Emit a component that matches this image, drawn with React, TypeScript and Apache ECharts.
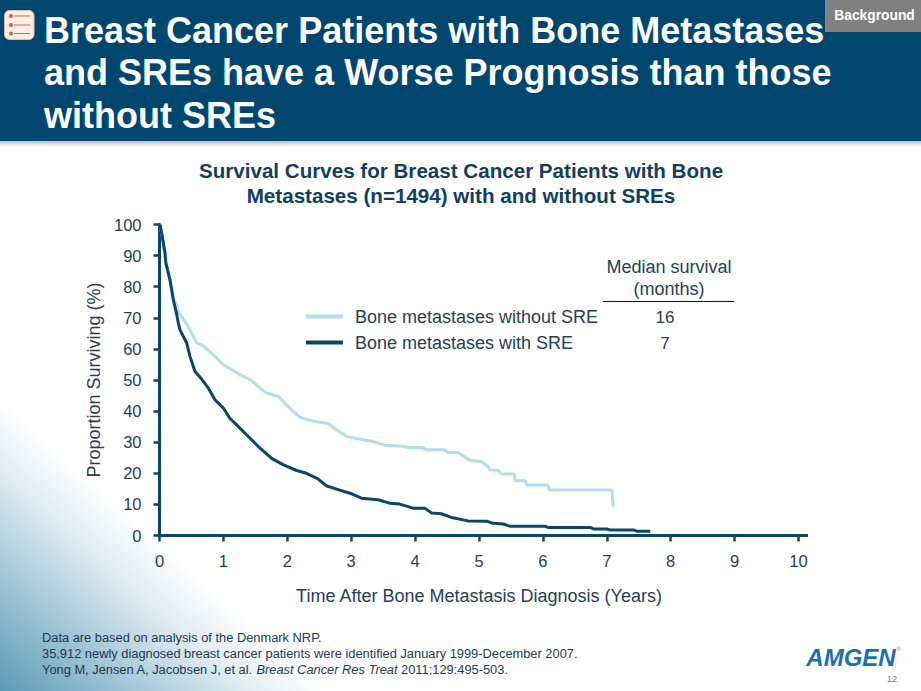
import React, { useEffect, useRef } from "react";
import * as echarts from "echarts";

const withoutSRE: [number, number][] = [
  [0.008, 99.9], [0.044, 96.1], [0.086, 90.8], [0.1, 87.6], [0.164, 82.2], [0.216, 76.5], [0.269, 74.2], [0.294, 72], [0.45, 67.2],
  [0.582, 61.9], [0.686, 61], [0.842, 58.1], [1, 54.9], [1.13, 53.3], [1.26, 51.7], [1.443, 49.8], [1.573, 47.4], [1.678, 45.8], [1.86, 44.7],
  [2.04, 40.9], [2.2, 38], [2.4, 36.8], [2.64, 36], [2.77, 34], [2.93, 31.8], [3.135, 31], [3.34, 30.2], [3.55, 28.9],
  [3.76, 28.8], [3.92, 28.3], [4.12, 28.3], [4.17, 27.6], [4.46, 27.6], [4.51, 26.7], [4.67, 26.7], [4.8, 24.9],
  [4.88, 24.1], [5.03, 23.8], [5.14, 22.2], [5.17, 21.1], [5.3, 20.9], [5.35, 19.8], [5.55, 19.8], [5.57, 17.6],
  [5.73, 17.6], [5.74, 16.2], [6.08, 16.2], [6.1, 14.6], [7.08, 14.6], [7.1, 9.1],
];
const withSRE: [number, number][] = [
  [0.008, 99.9], [0.044, 96.1], [0.086, 90.8], [0.1, 87.6], [0.164, 82.2], [0.216, 75.8], [0.27, 71], [0.295, 68.3], [0.32, 66.1],
  [0.426, 61.9], [0.477, 57.6], [0.556, 52.7], [0.66, 50.3], [0.764, 47.4], [0.869, 43.6], [0.999, 41], [1.1, 37.7],
  [1.21, 35.5], [1.365, 32.3], [1.547, 28.6], [1.755, 24.8], [1.94, 22.7], [2.146, 20.9], [2.3, 20], [2.48, 18.2], [2.61, 16], [2.77, 14.9], [2.98, 13.6],
  [3.16, 12], [3.42, 11.5], [3.6, 10.4], [3.76, 10.1], [3.97, 8.8], [4.15, 8.8], [4.26, 7.2], [4.41, 7],
  [4.57, 5.8], [4.83, 4.7], [5.12, 4.6], [5.22, 3.9], [5.38, 3.7], [5.48, 3], [6.03, 3], [6.08, 2.6],
  [6.74, 2.6], [6.79, 2.1], [7, 2.1], [7.05, 1.8], [7.42, 1.8], [7.47, 1.4], [7.68, 1.4],
];
const seriesNames = ["Bone metastases without SRE", "Bone metastases with SRE"];
const medianMonths = ["16", "7"];
const titleLines = "Breast Cancer Patients with Bone Metastases\nand SREs have a Worse Prognosis than those\nwithout SREs";
const subtitleLines = "Survival Curves for Breast Cancer Patients with Bone\nMetastases (n=1494) with and without SREs";

const FONT = "'Liberation Sans', Arial, sans-serif";
const NAVY = "#0b4567";
const LIGHT = "#b4dcec";
const INK = "#233f55";
const HEADER = "#00466e";
const ICON = "#c4694a";

export default function App() {
  const ref = useRef<HTMLDivElement>(null);
  useEffect(() => {
    document.body.style.margin = "0";
    document.body.style.background = "#fff";
    const chart = echarts.init(ref.current!, null, { renderer: "svg" });
    chart.setOption({
      animation: false,
      backgroundColor: "#ffffff",
      textStyle: { fontFamily: FONT },
      title: [
        {
          text: titleLines, left: 39, top: 4, z: 20,
          textStyle: { color: "#fff", fontSize: 36, fontWeight: "bold", lineHeight: 42.5, fontFamily: FONT },
        },
        {
          text: subtitleLines, left: 456, top: 153, textAlign: "center",
          textStyle: { color: "#123f5f", fontSize: 20.6, fontWeight: "bold", lineHeight: 25, fontFamily: FONT },
        },
      ],
      grid: { left: 159.5, top: 224.5, width: 639, height: 311, containLabel: false },
      xAxis: {
        type: "value", min: 0, max: 10, interval: 1,
        name: "Time After Bone Metastasis Diagnosis (Years)", nameLocation: "middle", nameGap: 51,
        nameTextStyle: { color: INK, fontSize: 18, fontFamily: FONT },
        axisLine: { show: true, onZero: false, lineStyle: { color: NAVY, width: 3 } },
        axisTick: { show: true, length: 6, lineStyle: { color: NAVY, width: 2.5 } },
        axisLabel: { color: INK, fontSize: 16.5, margin: 17, fontFamily: FONT },
        splitLine: { show: false },
      },
      yAxis: {
        type: "value", min: 0, max: 100, interval: 10,
        name: "Proportion Surviving (%)", nameLocation: "middle", nameGap: 57,
        nameTextStyle: { color: INK, fontSize: 18, fontFamily: FONT },
        axisLine: { show: true, onZero: false, lineStyle: { color: NAVY, width: 3 } },
        axisTick: { show: true, length: 6, lineStyle: { color: NAVY, width: 2.5 } },
        axisLabel: { color: INK, fontSize: 16.5, margin: 18, fontFamily: FONT },
        splitLine: { show: false },
      },
      legend: {
        data: seriesNames.map((name) => ({ name, icon: "rect" })),
        orient: "vertical", left: 306, top: 307.5, itemWidth: 37, itemHeight: 4, itemGap: 8, padding: 0,
        selectedMode: false,
        textStyle: { color: INK, fontSize: 18, fontFamily: FONT, padding: [0, 0, 0, 7] },
      },
      series: [
        { name: seriesNames[0], type: "line", data: withoutSRE, showSymbol: false, symbol: "none", clip: false, lineStyle: { color: LIGHT, width: 3 }, itemStyle: { color: LIGHT }, z: 3 },
        { name: seriesNames[1], type: "line", data: withSRE, showSymbol: false, symbol: "none", clip: false, lineStyle: { color: NAVY, width: 3 }, itemStyle: { color: NAVY }, z: 4 },
      ],
      graphic: [
        {
          type: "polygon", z: -10, silent: true,
          shape: { points: [[0, 395], [330, 691], [0, 691]] },
          style: {
            fill: {
              type: "linear", global: true, x: 0, y: 691, x2: 146, y2: 528,
              colorStops: [
                { offset: 0, color: "#5b9ab5" }, { offset: 0.45, color: "#a9cbd9" },
                { offset: 0.75, color: "#dfecf1" }, { offset: 1, color: "#ffffff" },
              ],
            },
          },
        },
        {
          type: "rect", z: 10, silent: true, shape: { x: 0, y: 141, width: 921, height: 6 },
          style: { fill: { type: "linear", x: 0, y: 0, x2: 0, y2: 1, colorStops: [{ offset: 0, color: "#b9c2c9" }, { offset: 1, color: "#ffffff" }] } },
        },
        { type: "rect", z: 11, silent: true, shape: { x: 0, y: 0, width: 921, height: 141 }, style: { fill: HEADER } },
        { type: "rect", z: 12, silent: true, shape: { x: 825, y: 0, width: 96, height: 32 }, style: { fill: "#808080" } },
        { type: "text", z: 25, silent: true, x: 874.5, y: 15, style: { text: "Background", fill: "#fff", font: `bold 13.8px ${FONT}`, textAlign: "center", textVerticalAlign: "middle" } },
        { type: "rect", z: 25, silent: true, shape: { x: 4.5, y: 10.5, width: 29.5, height: 29, r: 5 }, style: { fill: "#fdeee6", stroke: "#e9b9a5", lineWidth: 1 } },
        ...[16, 25, 33.5].flatMap((y) => [
          { type: "circle", z: 26, silent: true, shape: { cx: 11, cy: y, r: 2 }, style: { fill: ICON } },
          { type: "line", z: 26, silent: true, shape: { x1: 14, y1: y, x2: 30, y2: y }, style: { stroke: ICON, lineWidth: 1 } },
        ]),
        { type: "line", z: 1, silent: true, shape: { x1: 798, y1: 535.5, x2: 808, y2: 535.5 }, style: { stroke: NAVY, lineWidth: 3 } },
        { type: "text", z: 5, silent: true, x: 669, y: 267, style: { text: "Median survival", fill: INK, font: `18px ${FONT}`, textAlign: "center", textVerticalAlign: "middle" } },
        { type: "text", z: 5, silent: true, x: 669, y: 289, style: { text: "(months)", fill: INK, font: `18px ${FONT}`, textAlign: "center", textVerticalAlign: "middle" } },
        { type: "line", z: 5, silent: true, shape: { x1: 603, y1: 301.5, x2: 734, y2: 301.5 }, style: { stroke: "#111", lineWidth: 1 } },
        { type: "text", z: 5, silent: true, x: 665, y: 317, style: { text: medianMonths[0], fill: INK, font: `17px ${FONT}`, textAlign: "center", textVerticalAlign: "middle" } },
        { type: "text", z: 5, silent: true, x: 665, y: 343, style: { text: medianMonths[1], fill: INK, font: `17px ${FONT}`, textAlign: "center", textVerticalAlign: "middle" } },
        { type: "text", z: 5, silent: true, x: 42, y: 637, style: { text: "Data are based on analysis of the Denmark NRP.", fill: "#1d3a50", font: `12.85px ${FONT}`, textVerticalAlign: "middle" } },
        { type: "text", z: 5, silent: true, x: 42, y: 653, style: { text: "35,912 newly diagnosed breast cancer patients were identified January 1999-December 2007.", fill: "#1d3a50", font: `12.85px ${FONT}`, textVerticalAlign: "middle" } },
        {
          type: "text", z: 5, silent: true, x: 42, y: 669,
          style: {
            text: "Yong M, Jensen A, Jacobsen J, et al. {i|Breast Cancer Res Treat} 2011;129:495-503.",
            fill: "#1d3a50", font: `12.85px ${FONT}`, textVerticalAlign: "middle",
            rich: { i: { font: `italic 12.85px ${FONT}`, fill: "#1d3a50" } },
          },
        },
        { type: "text", z: 5, silent: true, x: 851, y: 657.5, style: { text: "AMGEN", fill: "#1a70ab", font: `italic bold 24px ${FONT}`, textAlign: "center", textVerticalAlign: "middle" } },
        { type: "text", z: 5, silent: true, x: 896.5, y: 649, style: { text: "®", fill: "#7a8a96", font: `6px ${FONT}`, textAlign: "left", textVerticalAlign: "middle" } },
        { type: "text", z: 5, silent: true, x: 892, y: 679, style: { text: "12", fill: "#6a7780", font: `9px ${FONT}`, textAlign: "center", textVerticalAlign: "middle" } },
      ],
    });
    return () => chart.dispose();
  }, []);
  return <div ref={ref} style={{ position: "absolute", left: 0, top: 0, width: 921, height: 691 }} />;
}
